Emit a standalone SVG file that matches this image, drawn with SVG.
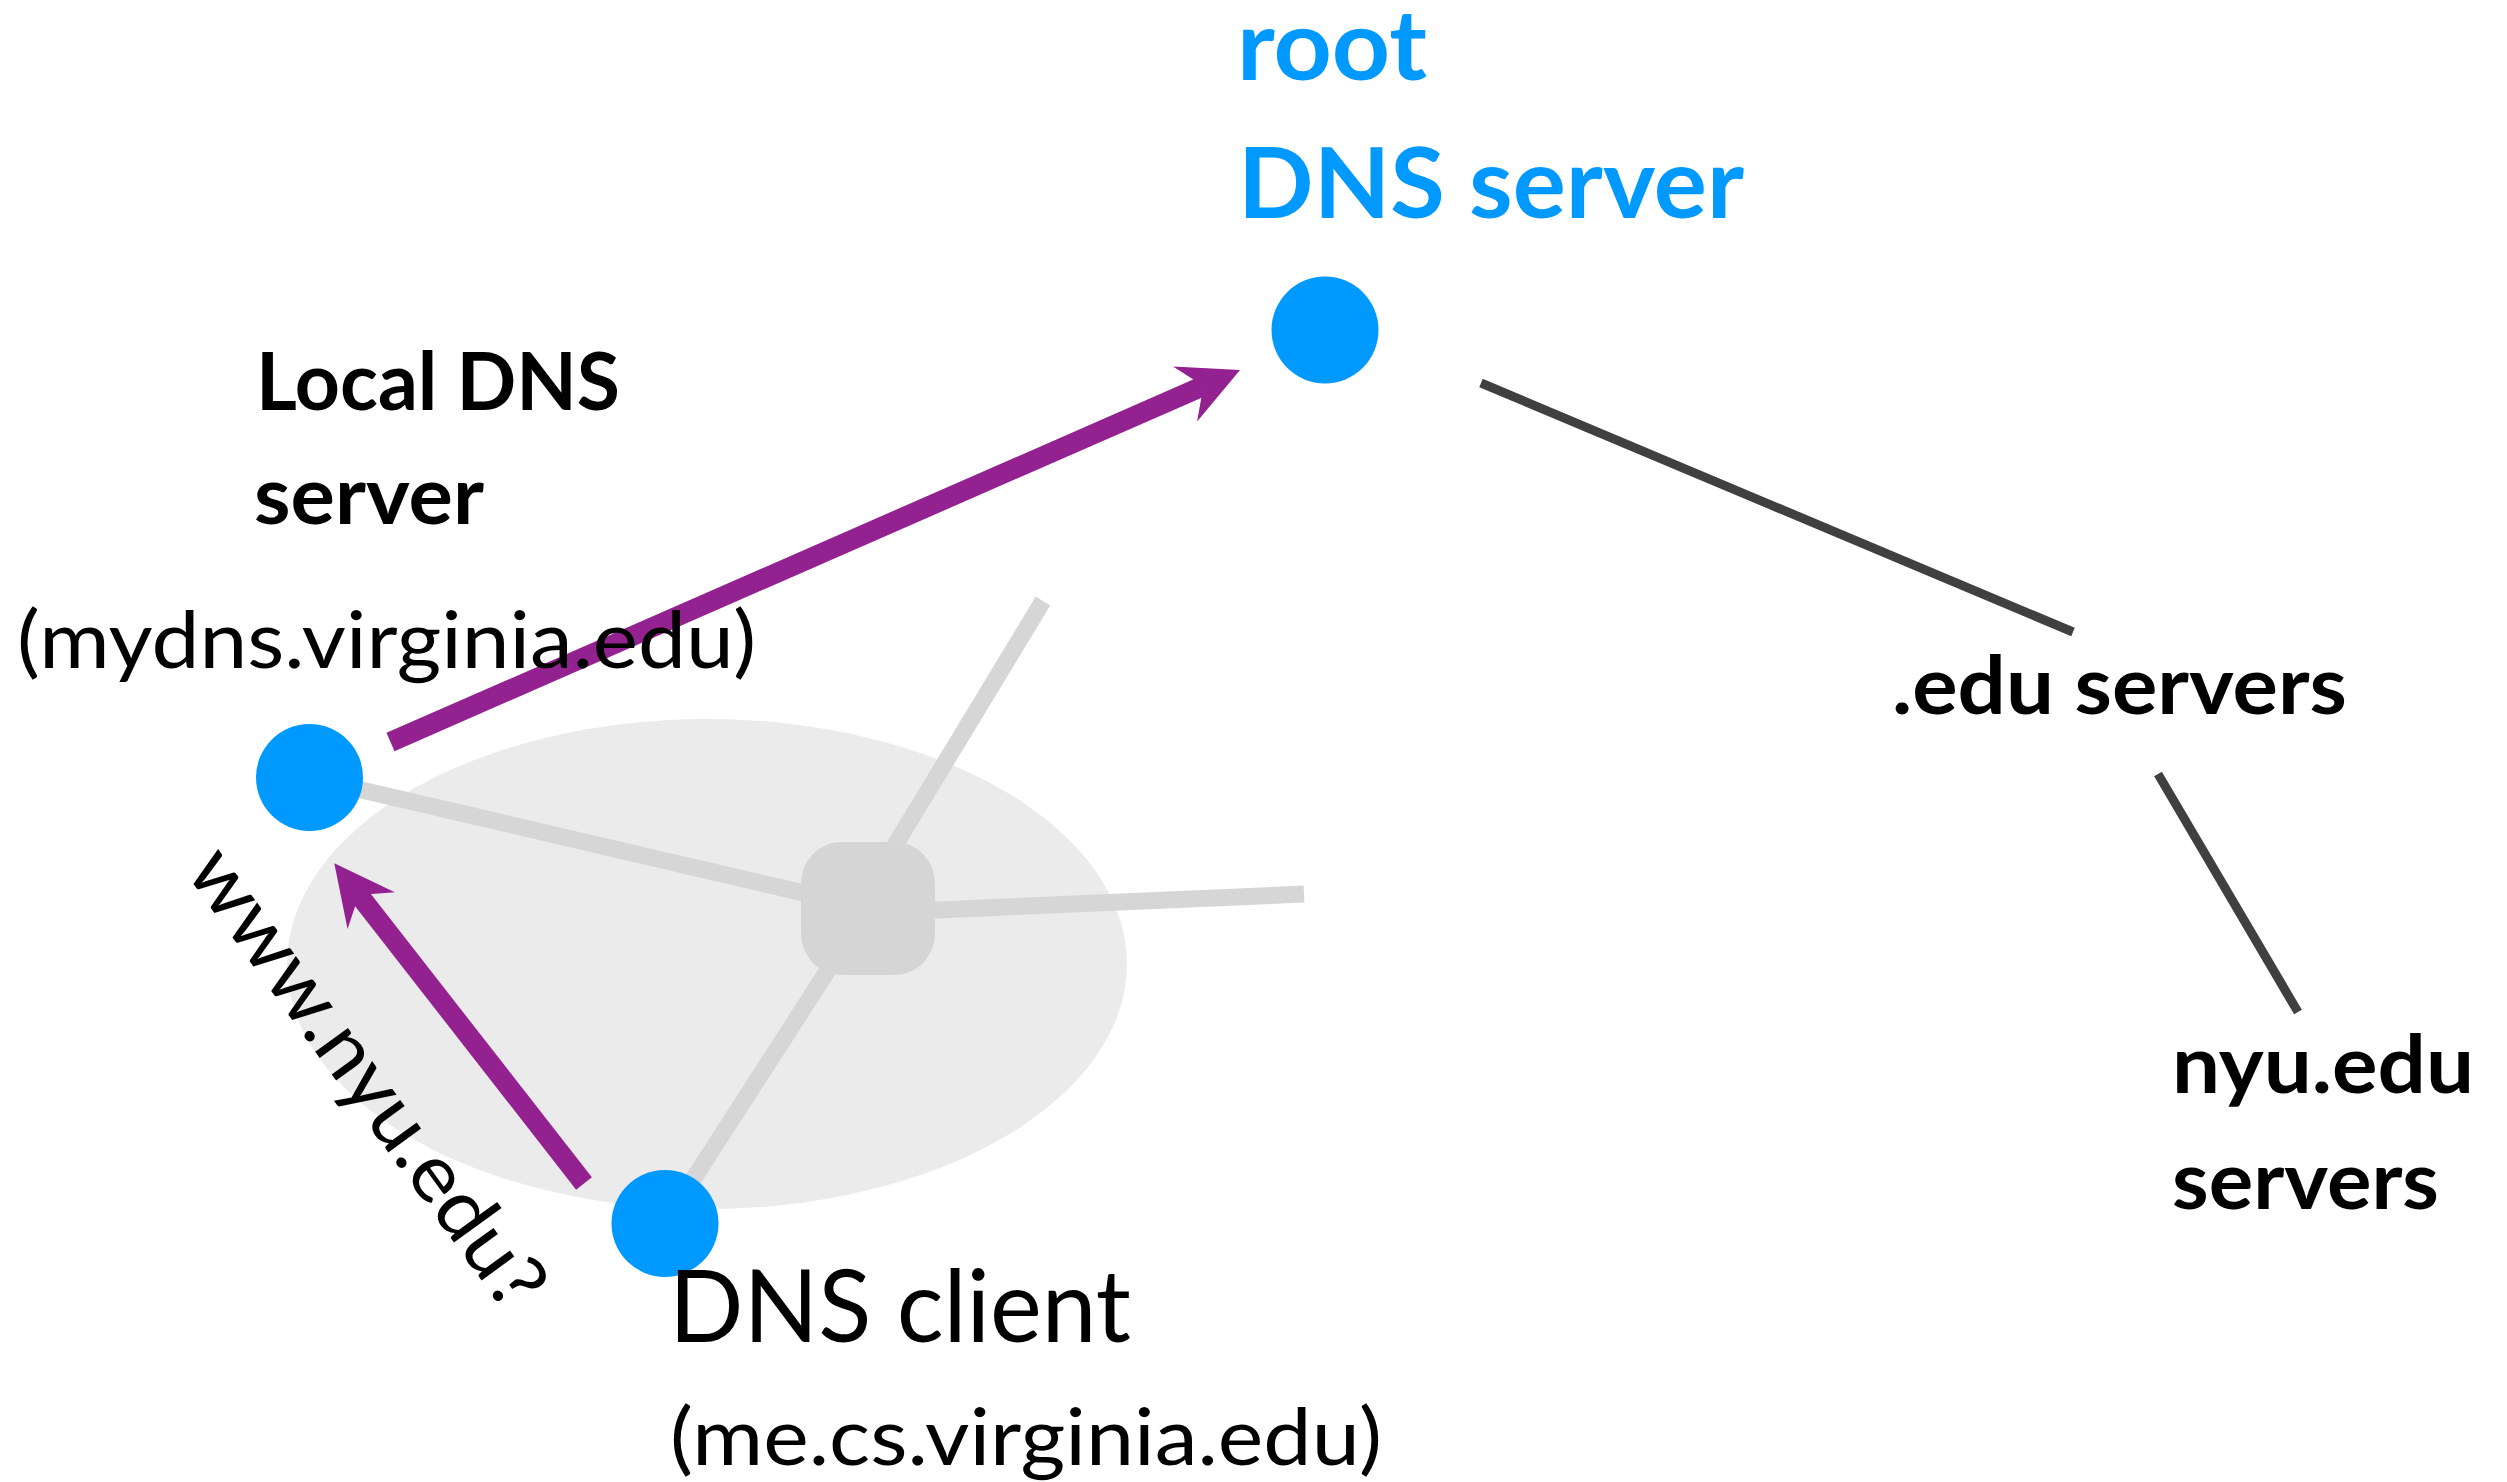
<svg xmlns="http://www.w3.org/2000/svg" width="2507" height="1482" viewBox="0 0 2507 1482">
<style>
text{font-family:Lato,"Open Sans","Liberation Sans",sans-serif;}
.b{font-weight:bold;fill:#000;}
.r{font-weight:normal;fill:#000;}
.blue{font-weight:bold;fill:#0099FF;}
.dot{fill:#0099FF;}
.net{stroke:#D6D6D6;stroke-width:17;fill:none;}
.tree{stroke:#404040;stroke-width:9;fill:none;}
.arrow{stroke:#93218F;stroke-width:20;fill:none;marker-end:url(#ah);}
</style>
<defs>
<marker id="ah" markerUnits="userSpaceOnUse" orient="auto" refX="-40" refY="0" markerWidth="80" markerHeight="80" overflow="visible">
<path d="M0,0 L-60,-30 L-40,0 L-60,30 Z" fill="#93218F"/>
</marker>
</defs>
<rect width="2507" height="1482" fill="#fff"/>
<g id="network">
<ellipse cx="707" cy="964" rx="420" ry="245" fill="#EBEBEB"/>
<line class="net" x1="310" y1="778" x2="868" y2="908"/>
<line class="net" x1="857" y1="908" x2="1043" y2="601"/>
<line class="net" x1="868" y1="913" x2="1304" y2="894"/>
<line class="net" x1="868" y1="908" x2="665" y2="1223"/>
<rect x="801" y="842" width="134" height="133" rx="40" ry="42" fill="#D5D5D5"/>
</g>
<g id="connectors">
<line class="tree" x1="1481" y1="383" x2="2073" y2="632"/>
<line class="tree" x1="2158" y1="774" x2="2298" y2="1012"/>
<line class="arrow" x1="390.5" y1="742" x2="1203.4" y2="386"/>
<line class="arrow" x1="584" y1="1183.5" x2="358.9" y2="894.9"/>
</g>
<g id="root">
<circle class="dot" cx="1325" cy="330" r="53.5"/>
<text class="blue" x="1237" y="80" font-size="98" textLength="190" lengthAdjust="spacingAndGlyphs">root</text>
<text class="blue" x="1238" y="218" font-size="98" textLength="506" lengthAdjust="spacingAndGlyphs">DNS server</text>
</g>
<g id="local">
<circle class="dot" cx="309.5" cy="777.5" r="53.5"/>
<text class="b" x="256" y="410" font-size="80" textLength="364" lengthAdjust="spacingAndGlyphs">Local DNS</text>
<text class="b" x="254" y="524" font-size="80" textLength="230" lengthAdjust="spacingAndGlyphs">server</text>
<text class="r" x="17" y="668" font-size="80" textLength="739" lengthAdjust="spacingAndGlyphs">(mydns.virginia.edu)</text>
</g>
<g id="query">
<text class="r" x="0" y="0" font-size="80" textLength="548" lengthAdjust="spacingAndGlyphs" transform="translate(184.6,871.8) rotate(54)">www.nyu.edu?</text>
</g>
<g id="client">
<circle class="dot" cx="665" cy="1223.5" r="53.5"/>
<text class="r" x="669" y="1342" font-size="100" textLength="462" lengthAdjust="spacingAndGlyphs">DNS client</text>
<text class="r" x="670" y="1465" font-size="80" textLength="712" lengthAdjust="spacingAndGlyphs">(me.cs.virginia.edu)</text>
</g>
<g id="edu">
<text class="b" x="1892" y="714" font-size="81" textLength="455" lengthAdjust="spacingAndGlyphs">.edu servers</text>
</g>
<g id="nyu">
<text class="b" x="2172" y="1093" font-size="80" textLength="302" lengthAdjust="spacingAndGlyphs">nyu.edu</text>
<text class="b" x="2172" y="1209" font-size="80" textLength="267" lengthAdjust="spacingAndGlyphs">servers</text>
</g>
</svg>
